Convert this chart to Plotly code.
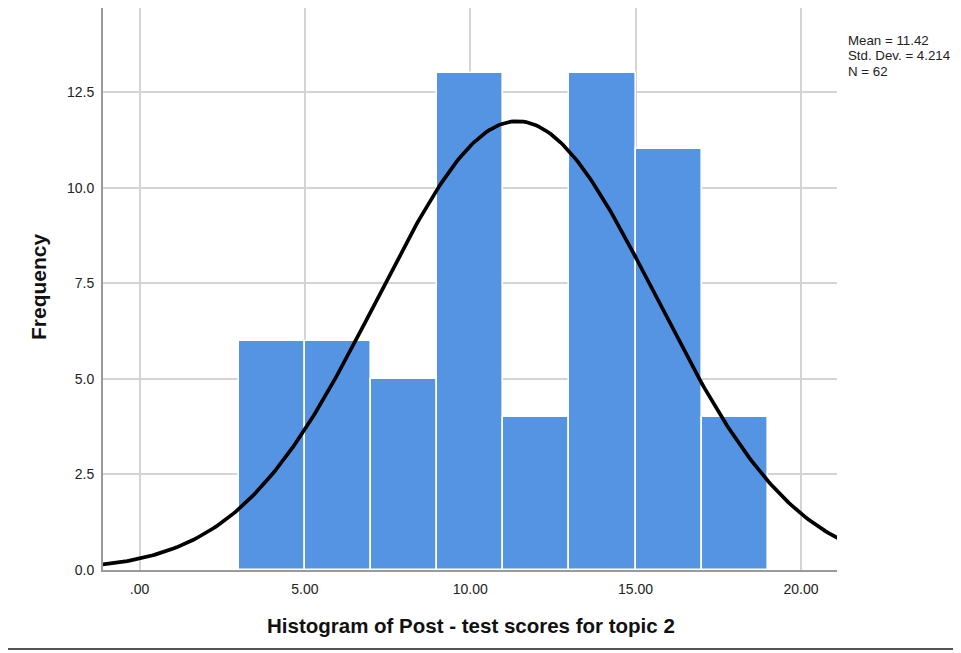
import numpy as np
import plotly.graph_objects as go

# histogram bins (lower edge, width) and counts
bin_starts = [3, 5, 7, 9, 11, 13, 15, 17]
bin_width = 2
counts = [6, 6, 5, 13, 4, 13, 11, 4]

# summary stats printed in the chart
mean = 11.42
std_dev = 4.214
n_obs = 62

x_ticks = [0, 5, 10, 15, 20]
x_tick_text = [".00", "5.00", "10.00", "15.00", "20.00"]
y_ticks = [0, 2.5, 5, 7.5, 10, 12.5]
y_tick_text = ["0.0", "2.5", "5.0", "7.5", "10.0", "12.5"]
stats_lines = ["Mean = 11.42", "Std. Dev. = 4.214", "N = 62"]

FONT = "Arial, Liberation Sans, sans-serif"
BAR_COLOR = "#5594e3"

centers = [s + bin_width / 2 for s in bin_starts]

# SPSS-style fitted normal curve, scaled to counts
xc = np.linspace(-1.2, 21.2, 300)
yc = n_obs * bin_width / (std_dev * np.sqrt(2 * np.pi)) * np.exp(-0.5 * ((xc - mean) / std_dev) ** 2)

fig = go.Figure()

fig.add_trace(go.Bar(
    x=centers,
    y=counts,
    width=bin_width,
    marker=dict(color=BAR_COLOR, line=dict(color="white", width=1.6)),
    hoverinfo="x+y",
))

fig.add_trace(go.Scatter(
    x=xc,
    y=yc,
    mode="lines",
    line=dict(color="black", width=3.7),
    hoverinfo="skip",
))

# the page body adds an 8px offset, so work in screen pixels minus 8
OFF = 8
W, H = 961 - OFF, 653 - OFF
L, R, T, B = 103 - OFF, 837 - OFF, 0, 570 - OFF


def px(p):
    return (p - OFF - L) / (R - L)


def py(p):
    return (B - (p - OFF)) / (B - T)


annotations = [
    dict(
        text=line,
        xref="paper", yref="paper",
        x=px(846), y=py(41 + 15 * i),
        xanchor="left", yanchor="middle",
        showarrow=False,
        font=dict(family=FONT, size=13.3, color="#222"),
    )
    for i, line in enumerate(stats_lines)
]
annotations += [
    dict(
        text="<b>Histogram of Post - test scores for topic 2</b>",
        xref="paper", yref="paper",
        x=px(471), y=py(625),
        xanchor="center", yanchor="middle",
        showarrow=False,
        font=dict(family=FONT, size=20.5, color="#111"),
    ),
    dict(
        text="<b>Frequency</b>",
        xref="paper", yref="paper",
        x=px(38), y=py(287),
        xanchor="center", yanchor="middle",
        textangle=-90,
        showarrow=False,
        font=dict(family=FONT, size=21, color="#111"),
    ),
]

fig.update_layout(
    width=W,
    height=H,
    margin=dict(l=L, r=W - R, t=T, b=H - B),
    paper_bgcolor="white",
    plot_bgcolor="white",
    showlegend=False,
    bargap=0,
    font=dict(family=FONT, size=14, color="#222"),
    xaxis=dict(
        range=[-1.104, 21.09],
        tickvals=x_ticks,
        ticktext=x_tick_text,
        showgrid=True,
        gridcolor="#d4d4d4",
        gridwidth=1.5,
        zeroline=False,
        showline=True,
        linecolor="#9a9a9a",
        linewidth=2,
        ticks="",
        ticklabelstandoff=5,
        tickfont=dict(family=FONT, size=14, color="#222"),
    ),
    yaxis=dict(
        range=[0, 14.70],
        tickvals=y_ticks,
        ticktext=y_tick_text,
        showgrid=True,
        gridcolor="#d4d4d4",
        gridwidth=1.5,
        zeroline=False,
        showline=True,
        linecolor="#9a9a9a",
        linewidth=2,
        ticks="",
        ticklabelstandoff=4,
        tickfont=dict(family=FONT, size=14, color="#222"),
    ),
    annotations=annotations,
    shapes=[
        # bottom edge of the outer frame
        dict(type="line", xref="paper", yref="paper",
             x0=px(6), x1=px(961), y0=py(649), y1=py(649),
             line=dict(color="#555", width=2)),
    ],
)

fig.write_html("out.html")
